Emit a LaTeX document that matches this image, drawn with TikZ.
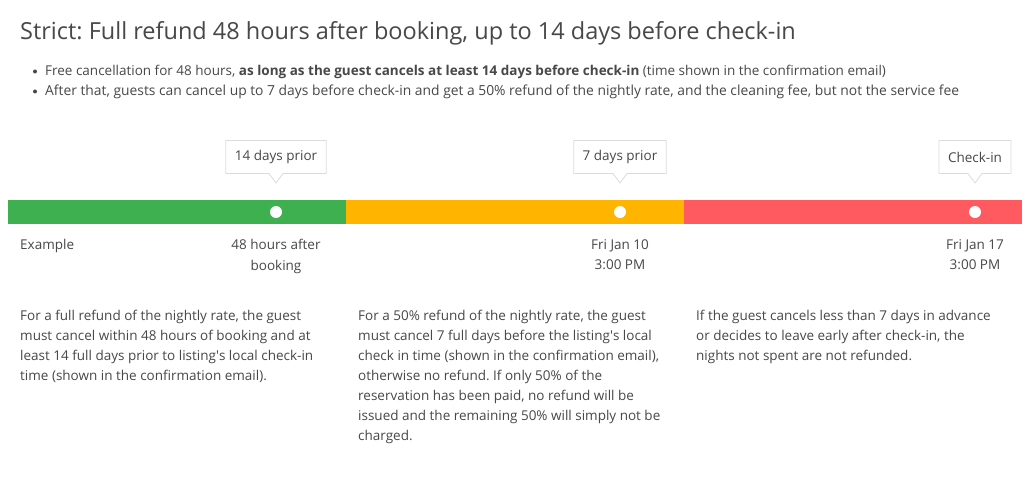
\documentclass[tikz,border=0pt]{standalone}
\usepackage{fontspec}
\setmainfont{Open Sans}
\usetikzlibrary{shapes.callouts}
\frenchspacing
\definecolor{txt}{HTML}{484848}
\definecolor{gr}{HTML}{3FB04F}
\definecolor{og}{HTML}{FFB400}
\definecolor{rd}{HTML}{FF5A5F}
\definecolor{bd}{HTML}{DCDCDC}
\tikzset{
  seg/.style={inner sep=0pt, outer sep=0pt, minimum height=24pt},
  dot/.style={circle, fill=white, inner sep=0pt, minimum size=12pt},
  tip/.style={rectangle callout, draw=bd, fill=white, line width=0.8pt, text=txt,
    font=\fontsize{13.5}{16}\selectfont, minimum height=33pt, inner xsep=9pt,
    callout pointer width=14pt},
  lbl/.style={text=txt, font=\fontsize{13.5}{20.5}\selectfont, inner sep=0pt, align=center, anchor=north},
  para/.style={text=txt, font=\fontsize{13.5}{20}\selectfont, inner sep=0pt, align=left, anchor=north west},
}
\begin{document}
\begin{tikzpicture}[x=1pt,y=-1pt]
\useasboundingbox[fill=white] (0,0) rectangle (1030,500);
\node[text=txt, font=\fontsize{23.5}{28}\selectfont, anchor=base west, inner sep=0pt] (title) at (20,40)
  {Strict: Full refund 48 hours after booking, up to 14 days before check-in};
\node[text=txt, font=\fontsize{13.5}{20}\selectfont, anchor=base west, inner sep=0pt] (b1) at (45,76)
  {Free cancellation for 48 hours, \textbf{as long as the guest cancels at least 14 days before check-in} (time shown in the confirmation email)};
\node[text=txt, font=\fontsize{13.85}{20}\selectfont, anchor=base west, inner sep=0pt] (b2) at (45,96)
  {After that, guests can cancel up to 7 days before check-in and get a 50\% refund of the nightly rate, and the cleaning fee, but not the service fee};
\fill[txt] (35,71.5) circle (2pt);
\fill[txt] (35,91.5) circle (2pt);
% bar
\node[seg, fill=gr, minimum width=338pt, anchor=north west] (g) at (8,200) {};
\node[seg, fill=og, minimum width=338pt, anchor=north west] (o) at (346,200) {};
\node[seg, fill=rd, minimum width=338pt, anchor=north west] (r) at (684,200) {};
\node[dot] (d1) at (276,212) {};
\node[dot] (d2) at (620,212) {};
\node[dot] (d3) at (975,212) {};
% callouts
\node[tip, callout absolute pointer={(276,183)}] (c1) at (276,157) {14 days prior};
\node[tip, callout absolute pointer={(620,183)}] (c2) at (620,157) {7 days prior};
\node[tip, callout absolute pointer={(975,183)}] (c3) at (975,157) {Check-in};
% labels
\node[para] (ex) at (20,239) {Example};
\node[lbl] (l1) at (276,239) {48 hours after\\booking};
\node[lbl] (l2) at (620,239) {Fri Jan 10\\3:00 PM};
\node[lbl] (l3) at (975,239) {Fri Jan 17\\3:00 PM};
% paragraphs
\node[para] (p1) at (20,310) {For a full refund of the nightly rate, the guest\\must cancel within 48 hours of booking and at\\least 14 full days prior to listing\textquotesingle s local check-in\\time (shown in the confirmation email).};
\node[para] (p2) at (358,310) {For a 50\% refund of the nightly rate, the guest\\must cancel 7 full days before the listing\textquotesingle s local\\check in time (shown in the confirmation email),\\otherwise no refund. If only 50\% of the\\reservation has been paid, no refund will be\\issued and the remaining 50\% will simply not be\\charged.};
\node[para] (p3) at (696,310) {If the guest cancels less than 7 days in advance\\or decides to leave early after check-in, the\\nights not spent are not refunded.};
\end{tikzpicture}
\end{document}
